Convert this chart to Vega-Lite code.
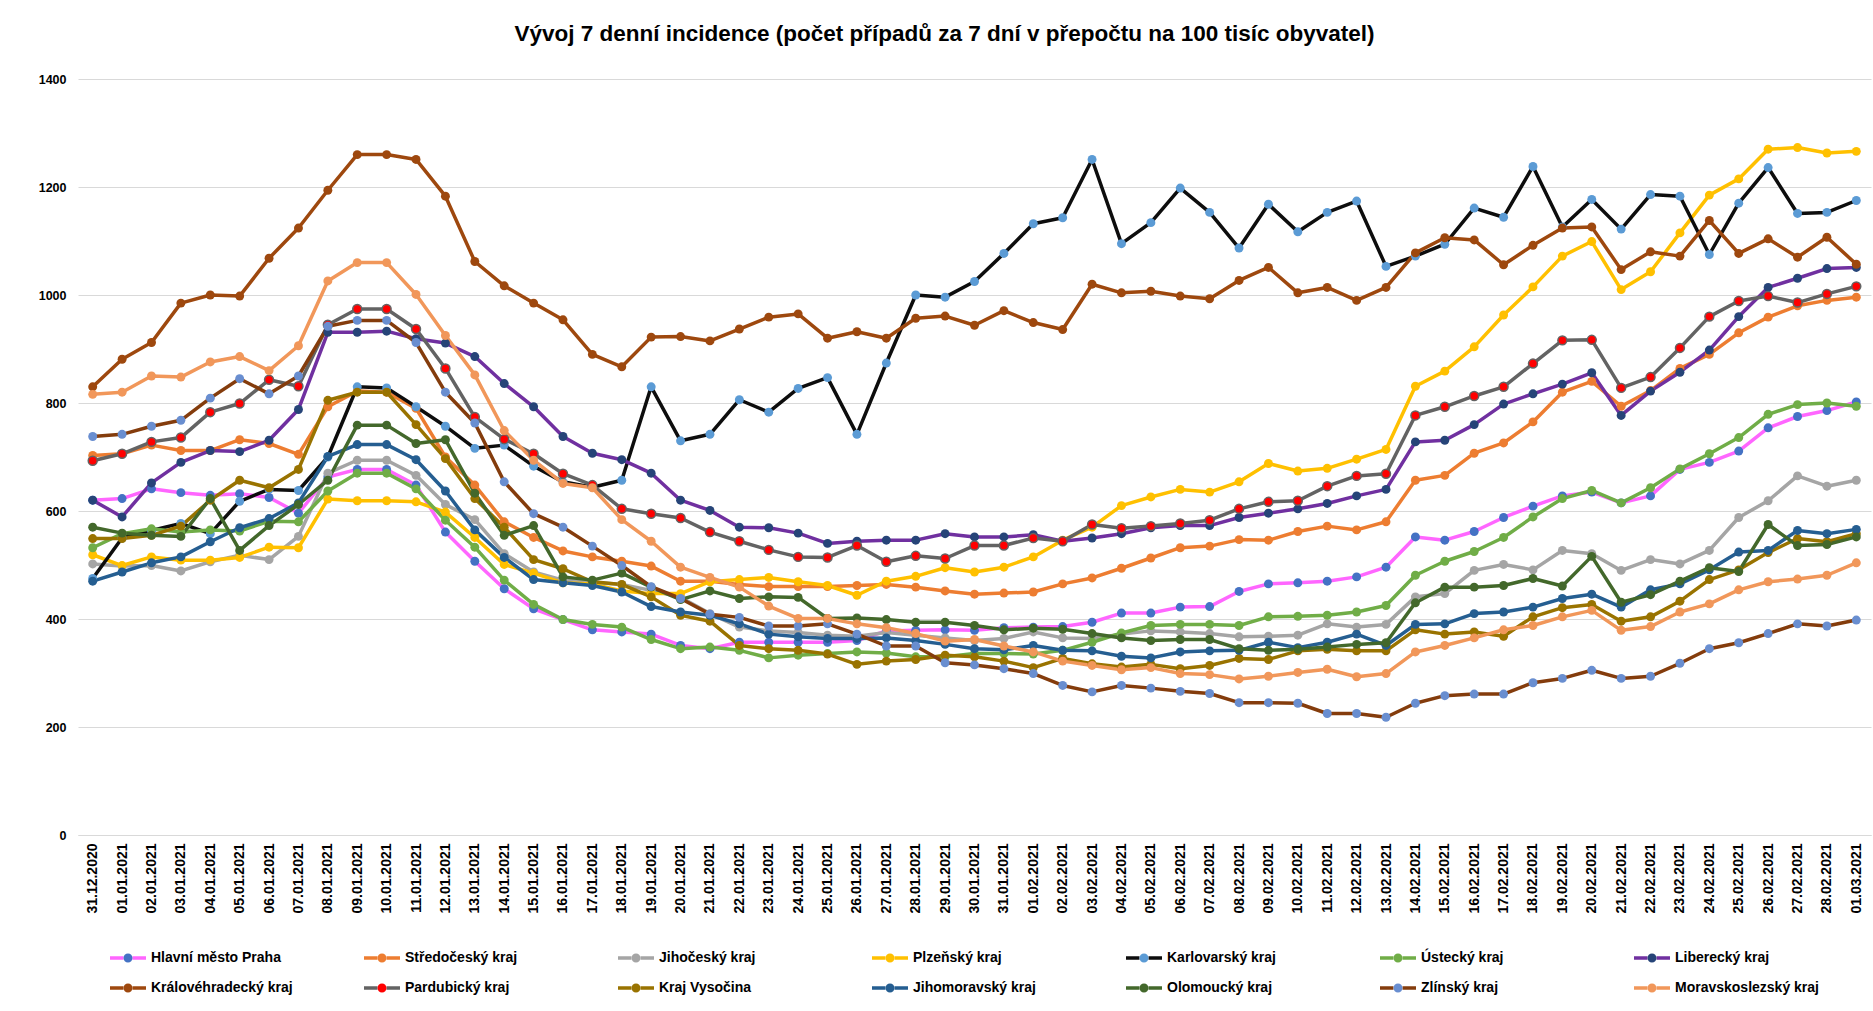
{
"$schema": "https://vega.github.io/schema/vega-lite/v6.json",
"width": 1793, "height": 756,
"autosize": {"type": "none"},
"padding": {"left": 78, "top": 79, "right": 2, "bottom": 176},
"background": "white",
"config": {"view": {"stroke": null}, "font": "Liberation Sans"},
"title": {"text": "Vývoj 7 denní incidence (počet případů za 7 dní v přepočtu na 100 tisíc obyvatel)", "font": "Liberation Sans", "fontSize": 22.5, "fontWeight": "bold", "color": "#000000", "anchor": "middle", "offset": 28, "dx": -30},
"data": {"values": [
{"d":"2020-12-31","r":"Hlavní město Praha","v":620},{"d":"2021-01-01","r":"Hlavní město Praha","v":623},{"d":"2021-01-02","r":"Hlavní město Praha","v":641},{"d":"2021-01-03","r":"Hlavní město Praha","v":634},{"d":"2021-01-04","r":"Hlavní město Praha","v":629},{"d":"2021-01-05","r":"Hlavní město Praha","v":632},{"d":"2021-01-06","r":"Hlavní město Praha","v":625},{"d":"2021-01-07","r":"Hlavní město Praha","v":596},{"d":"2021-01-08","r":"Hlavní město Praha","v":663},{"d":"2021-01-09","r":"Hlavní město Praha","v":677},{"d":"2021-01-10","r":"Hlavní město Praha","v":677},{"d":"2021-01-11","r":"Hlavní město Praha","v":648},{"d":"2021-01-12","r":"Hlavní město Praha","v":561},{"d":"2021-01-13","r":"Hlavní město Praha","v":507},{"d":"2021-01-14","r":"Hlavní město Praha","v":456},{"d":"2021-01-15","r":"Hlavní město Praha","v":419},{"d":"2021-01-16","r":"Hlavní město Praha","v":399},{"d":"2021-01-17","r":"Hlavní město Praha","v":380},{"d":"2021-01-18","r":"Hlavní město Praha","v":376},{"d":"2021-01-19","r":"Hlavní město Praha","v":372},{"d":"2021-01-20","r":"Hlavní město Praha","v":351},{"d":"2021-01-21","r":"Hlavní město Praha","v":345},{"d":"2021-01-22","r":"Hlavní město Praha","v":357},{"d":"2021-01-23","r":"Hlavní město Praha","v":357},{"d":"2021-01-24","r":"Hlavní město Praha","v":357},{"d":"2021-01-25","r":"Hlavní město Praha","v":357},{"d":"2021-01-26","r":"Hlavní město Praha","v":360},{"d":"2021-01-27","r":"Hlavní město Praha","v":378},{"d":"2021-01-28","r":"Hlavní město Praha","v":379},{"d":"2021-01-29","r":"Hlavní město Praha","v":380},{"d":"2021-01-30","r":"Hlavní město Praha","v":379},{"d":"2021-01-31","r":"Hlavní město Praha","v":384},{"d":"2021-02-01","r":"Hlavní město Praha","v":385},{"d":"2021-02-02","r":"Hlavní město Praha","v":386},{"d":"2021-02-03","r":"Hlavní město Praha","v":394},{"d":"2021-02-04","r":"Hlavní město Praha","v":411},{"d":"2021-02-05","r":"Hlavní město Praha","v":411},{"d":"2021-02-06","r":"Hlavní město Praha","v":422},{"d":"2021-02-07","r":"Hlavní město Praha","v":423},{"d":"2021-02-08","r":"Hlavní město Praha","v":451},{"d":"2021-02-09","r":"Hlavní město Praha","v":465},{"d":"2021-02-10","r":"Hlavní město Praha","v":467},{"d":"2021-02-11","r":"Hlavní město Praha","v":470},{"d":"2021-02-12","r":"Hlavní město Praha","v":478},{"d":"2021-02-13","r":"Hlavní město Praha","v":496},{"d":"2021-02-14","r":"Hlavní město Praha","v":552},{"d":"2021-02-15","r":"Hlavní město Praha","v":546},{"d":"2021-02-16","r":"Hlavní město Praha","v":562},{"d":"2021-02-17","r":"Hlavní město Praha","v":588},{"d":"2021-02-18","r":"Hlavní město Praha","v":609},{"d":"2021-02-19","r":"Hlavní město Praha","v":628},{"d":"2021-02-20","r":"Hlavní město Praha","v":635},{"d":"2021-02-21","r":"Hlavní město Praha","v":615},{"d":"2021-02-22","r":"Hlavní město Praha","v":628},{"d":"2021-02-23","r":"Hlavní město Praha","v":677},{"d":"2021-02-24","r":"Hlavní město Praha","v":690},{"d":"2021-02-25","r":"Hlavní město Praha","v":711},{"d":"2021-02-26","r":"Hlavní město Praha","v":754},{"d":"2021-02-27","r":"Hlavní město Praha","v":775},{"d":"2021-02-28","r":"Hlavní město Praha","v":786},{"d":"2021-03-01","r":"Hlavní město Praha","v":802},
{"d":"2020-12-31","r":"Středočeský kraj","v":703},{"d":"2021-01-01","r":"Středočeský kraj","v":706},{"d":"2021-01-02","r":"Středočeský kraj","v":722},{"d":"2021-01-03","r":"Středočeský kraj","v":712},{"d":"2021-01-04","r":"Středočeský kraj","v":712},{"d":"2021-01-05","r":"Středočeský kraj","v":732},{"d":"2021-01-06","r":"Středočeský kraj","v":725},{"d":"2021-01-07","r":"Středočeský kraj","v":705},{"d":"2021-01-08","r":"Středočeský kraj","v":793},{"d":"2021-01-09","r":"Středočeský kraj","v":822},{"d":"2021-01-10","r":"Středočeský kraj","v":820},{"d":"2021-01-11","r":"Středočeský kraj","v":790},{"d":"2021-01-12","r":"Středočeský kraj","v":700},{"d":"2021-01-13","r":"Středočeský kraj","v":648},{"d":"2021-01-14","r":"Středočeský kraj","v":580},{"d":"2021-01-15","r":"Středočeský kraj","v":551},{"d":"2021-01-16","r":"Středočeský kraj","v":526},{"d":"2021-01-17","r":"Středočeský kraj","v":515},{"d":"2021-01-18","r":"Středočeský kraj","v":507},{"d":"2021-01-19","r":"Středočeský kraj","v":498},{"d":"2021-01-20","r":"Středočeský kraj","v":470},{"d":"2021-01-21","r":"Středočeský kraj","v":470},{"d":"2021-01-22","r":"Středočeský kraj","v":464},{"d":"2021-01-23","r":"Středočeský kraj","v":460},{"d":"2021-01-24","r":"Středočeský kraj","v":460},{"d":"2021-01-25","r":"Středočeský kraj","v":460},{"d":"2021-01-26","r":"Středočeský kraj","v":462},{"d":"2021-01-27","r":"Středočeský kraj","v":464},{"d":"2021-01-28","r":"Středočeský kraj","v":459},{"d":"2021-01-29","r":"Středočeský kraj","v":452},{"d":"2021-01-30","r":"Středočeský kraj","v":446},{"d":"2021-01-31","r":"Středočeský kraj","v":448},{"d":"2021-02-01","r":"Středočeský kraj","v":450},{"d":"2021-02-02","r":"Středočeský kraj","v":465},{"d":"2021-02-03","r":"Středočeský kraj","v":476},{"d":"2021-02-04","r":"Středočeský kraj","v":494},{"d":"2021-02-05","r":"Středočeský kraj","v":513},{"d":"2021-02-06","r":"Středočeský kraj","v":532},{"d":"2021-02-07","r":"Středočeský kraj","v":535},{"d":"2021-02-08","r":"Středočeský kraj","v":547},{"d":"2021-02-09","r":"Středočeský kraj","v":546},{"d":"2021-02-10","r":"Středočeský kraj","v":562},{"d":"2021-02-11","r":"Středočeský kraj","v":572},{"d":"2021-02-12","r":"Středočeský kraj","v":565},{"d":"2021-02-13","r":"Středočeský kraj","v":580},{"d":"2021-02-14","r":"Středočeský kraj","v":657},{"d":"2021-02-15","r":"Středočeský kraj","v":666},{"d":"2021-02-16","r":"Středočeský kraj","v":707},{"d":"2021-02-17","r":"Středočeský kraj","v":726},{"d":"2021-02-18","r":"Středočeský kraj","v":765},{"d":"2021-02-19","r":"Středočeský kraj","v":820},{"d":"2021-02-20","r":"Středočeský kraj","v":840},{"d":"2021-02-21","r":"Středočeský kraj","v":794},{"d":"2021-02-22","r":"Středočeský kraj","v":823},{"d":"2021-02-23","r":"Středočeský kraj","v":864},{"d":"2021-02-24","r":"Středočeský kraj","v":890},{"d":"2021-02-25","r":"Středočeský kraj","v":930},{"d":"2021-02-26","r":"Středočeský kraj","v":959},{"d":"2021-02-27","r":"Středočeský kraj","v":980},{"d":"2021-02-28","r":"Středočeský kraj","v":990},{"d":"2021-03-01","r":"Středočeský kraj","v":996},
{"d":"2020-12-31","r":"Jihočeský kraj","v":502},{"d":"2021-01-01","r":"Jihočeský kraj","v":498},{"d":"2021-01-02","r":"Jihočeský kraj","v":499},{"d":"2021-01-03","r":"Jihočeský kraj","v":489},{"d":"2021-01-04","r":"Jihočeský kraj","v":506},{"d":"2021-01-05","r":"Jihočeský kraj","v":518},{"d":"2021-01-06","r":"Jihočeský kraj","v":510},{"d":"2021-01-07","r":"Jihočeský kraj","v":553},{"d":"2021-01-08","r":"Jihočeský kraj","v":670},{"d":"2021-01-09","r":"Jihočeský kraj","v":694},{"d":"2021-01-10","r":"Jihočeský kraj","v":694},{"d":"2021-01-11","r":"Jihočeský kraj","v":666},{"d":"2021-01-12","r":"Jihočeský kraj","v":612},{"d":"2021-01-13","r":"Jihočeský kraj","v":584},{"d":"2021-01-14","r":"Jihočeský kraj","v":521},{"d":"2021-01-15","r":"Jihočeský kraj","v":487},{"d":"2021-01-16","r":"Jihočeský kraj","v":472},{"d":"2021-01-17","r":"Jihočeský kraj","v":468},{"d":"2021-01-18","r":"Jihočeský kraj","v":464},{"d":"2021-01-19","r":"Jihočeský kraj","v":453},{"d":"2021-01-20","r":"Jihočeský kraj","v":440},{"d":"2021-01-21","r":"Jihočeský kraj","v":410},{"d":"2021-01-22","r":"Jihočeský kraj","v":385},{"d":"2021-01-23","r":"Jihočeský kraj","v":378},{"d":"2021-01-24","r":"Jihočeský kraj","v":375},{"d":"2021-01-25","r":"Jihočeský kraj","v":370},{"d":"2021-01-26","r":"Jihočeský kraj","v":368},{"d":"2021-01-27","r":"Jihočeský kraj","v":375},{"d":"2021-01-28","r":"Jihočeský kraj","v":370},{"d":"2021-01-29","r":"Jihočeský kraj","v":365},{"d":"2021-01-30","r":"Jihočeský kraj","v":360},{"d":"2021-01-31","r":"Jihočeský kraj","v":364},{"d":"2021-02-01","r":"Jihočeský kraj","v":376},{"d":"2021-02-02","r":"Jihočeský kraj","v":365},{"d":"2021-02-03","r":"Jihočeský kraj","v":364},{"d":"2021-02-04","r":"Jihočeský kraj","v":372},{"d":"2021-02-05","r":"Jihočeský kraj","v":378},{"d":"2021-02-06","r":"Jihočeský kraj","v":376},{"d":"2021-02-07","r":"Jihočeský kraj","v":373},{"d":"2021-02-08","r":"Jihočeský kraj","v":367},{"d":"2021-02-09","r":"Jihočeský kraj","v":368},{"d":"2021-02-10","r":"Jihočeský kraj","v":370},{"d":"2021-02-11","r":"Jihočeský kraj","v":391},{"d":"2021-02-12","r":"Jihočeský kraj","v":385},{"d":"2021-02-13","r":"Jihočeský kraj","v":390},{"d":"2021-02-14","r":"Jihočeský kraj","v":441},{"d":"2021-02-15","r":"Jihočeský kraj","v":447},{"d":"2021-02-16","r":"Jihočeský kraj","v":490},{"d":"2021-02-17","r":"Jihočeský kraj","v":501},{"d":"2021-02-18","r":"Jihočeský kraj","v":491},{"d":"2021-02-19","r":"Jihočeský kraj","v":527},{"d":"2021-02-20","r":"Jihočeský kraj","v":521},{"d":"2021-02-21","r":"Jihočeský kraj","v":490},{"d":"2021-02-22","r":"Jihočeský kraj","v":510},{"d":"2021-02-23","r":"Jihočeský kraj","v":502},{"d":"2021-02-24","r":"Jihočeský kraj","v":527},{"d":"2021-02-25","r":"Jihočeský kraj","v":588},{"d":"2021-02-26","r":"Jihočeský kraj","v":619},{"d":"2021-02-27","r":"Jihočeský kraj","v":665},{"d":"2021-02-28","r":"Jihočeský kraj","v":646},{"d":"2021-03-01","r":"Jihočeský kraj","v":657},
{"d":"2020-12-31","r":"Plzeňský kraj","v":519},{"d":"2021-01-01","r":"Plzeňský kraj","v":499},{"d":"2021-01-02","r":"Plzeňský kraj","v":515},{"d":"2021-01-03","r":"Plzeňský kraj","v":509},{"d":"2021-01-04","r":"Plzeňský kraj","v":509},{"d":"2021-01-05","r":"Plzeňský kraj","v":514},{"d":"2021-01-06","r":"Plzeňský kraj","v":533},{"d":"2021-01-07","r":"Plzeňský kraj","v":532},{"d":"2021-01-08","r":"Plzeňský kraj","v":622},{"d":"2021-01-09","r":"Plzeňský kraj","v":619},{"d":"2021-01-10","r":"Plzeňský kraj","v":619},{"d":"2021-01-11","r":"Plzeňský kraj","v":617},{"d":"2021-01-12","r":"Plzeňský kraj","v":598},{"d":"2021-01-13","r":"Plzeňský kraj","v":551},{"d":"2021-01-14","r":"Plzeňský kraj","v":501},{"d":"2021-01-15","r":"Plzeňský kraj","v":485},{"d":"2021-01-16","r":"Plzeňský kraj","v":467},{"d":"2021-01-17","r":"Plzeňský kraj","v":465},{"d":"2021-01-18","r":"Plzeňský kraj","v":452},{"d":"2021-01-19","r":"Plzeňský kraj","v":447},{"d":"2021-01-20","r":"Plzeňský kraj","v":447},{"d":"2021-01-21","r":"Plzeňský kraj","v":469},{"d":"2021-01-22","r":"Plzeňský kraj","v":473},{"d":"2021-01-23","r":"Plzeňský kraj","v":477},{"d":"2021-01-24","r":"Plzeňský kraj","v":469},{"d":"2021-01-25","r":"Plzeňský kraj","v":462},{"d":"2021-01-26","r":"Plzeňský kraj","v":444},{"d":"2021-01-27","r":"Plzeňský kraj","v":470},{"d":"2021-01-28","r":"Plzeňský kraj","v":479},{"d":"2021-01-29","r":"Plzeňský kraj","v":495},{"d":"2021-01-30","r":"Plzeňský kraj","v":487},{"d":"2021-01-31","r":"Plzeňský kraj","v":496},{"d":"2021-02-01","r":"Plzeňský kraj","v":515},{"d":"2021-02-02","r":"Plzeňský kraj","v":546},{"d":"2021-02-03","r":"Plzeňský kraj","v":570},{"d":"2021-02-04","r":"Plzeňský kraj","v":610},{"d":"2021-02-05","r":"Plzeňský kraj","v":626},{"d":"2021-02-06","r":"Plzeňský kraj","v":640},{"d":"2021-02-07","r":"Plzeňský kraj","v":635},{"d":"2021-02-08","r":"Plzeňský kraj","v":654},{"d":"2021-02-09","r":"Plzeňský kraj","v":688},{"d":"2021-02-10","r":"Plzeňský kraj","v":674},{"d":"2021-02-11","r":"Plzeňský kraj","v":679},{"d":"2021-02-12","r":"Plzeňský kraj","v":696},{"d":"2021-02-13","r":"Plzeňský kraj","v":714},{"d":"2021-02-14","r":"Plzeňský kraj","v":831},{"d":"2021-02-15","r":"Plzeňský kraj","v":859},{"d":"2021-02-16","r":"Plzeňský kraj","v":904},{"d":"2021-02-17","r":"Plzeňský kraj","v":963},{"d":"2021-02-18","r":"Plzeňský kraj","v":1015},{"d":"2021-02-19","r":"Plzeňský kraj","v":1072},{"d":"2021-02-20","r":"Plzeňský kraj","v":1099},{"d":"2021-02-21","r":"Plzeňský kraj","v":1010},{"d":"2021-02-22","r":"Plzeňský kraj","v":1043},{"d":"2021-02-23","r":"Plzeňský kraj","v":1115},{"d":"2021-02-24","r":"Plzeňský kraj","v":1185},{"d":"2021-02-25","r":"Plzeňský kraj","v":1215},{"d":"2021-02-26","r":"Plzeňský kraj","v":1270},{"d":"2021-02-27","r":"Plzeňský kraj","v":1273},{"d":"2021-02-28","r":"Plzeňský kraj","v":1263},{"d":"2021-03-01","r":"Plzeňský kraj","v":1266},
{"d":"2020-12-31","r":"Karlovarský kraj","v":475},{"d":"2021-01-01","r":"Karlovarský kraj","v":550},{"d":"2021-01-02","r":"Karlovarský kraj","v":564},{"d":"2021-01-03","r":"Karlovarský kraj","v":577},{"d":"2021-01-04","r":"Karlovarský kraj","v":558},{"d":"2021-01-05","r":"Karlovarský kraj","v":618},{"d":"2021-01-06","r":"Karlovarský kraj","v":640},{"d":"2021-01-07","r":"Karlovarský kraj","v":638},{"d":"2021-01-08","r":"Karlovarský kraj","v":700},{"d":"2021-01-09","r":"Karlovarský kraj","v":830},{"d":"2021-01-10","r":"Karlovarský kraj","v":828},{"d":"2021-01-11","r":"Karlovarský kraj","v":793},{"d":"2021-01-12","r":"Karlovarský kraj","v":757},{"d":"2021-01-13","r":"Karlovarský kraj","v":716},{"d":"2021-01-14","r":"Karlovarský kraj","v":722},{"d":"2021-01-15","r":"Karlovarský kraj","v":683},{"d":"2021-01-16","r":"Karlovarský kraj","v":654},{"d":"2021-01-17","r":"Karlovarský kraj","v":644},{"d":"2021-01-18","r":"Karlovarský kraj","v":657},{"d":"2021-01-19","r":"Karlovarský kraj","v":830},{"d":"2021-01-20","r":"Karlovarský kraj","v":730},{"d":"2021-01-21","r":"Karlovarský kraj","v":742},{"d":"2021-01-22","r":"Karlovarský kraj","v":806},{"d":"2021-01-23","r":"Karlovarský kraj","v":783},{"d":"2021-01-24","r":"Karlovarský kraj","v":827},{"d":"2021-01-25","r":"Karlovarský kraj","v":847},{"d":"2021-01-26","r":"Karlovarský kraj","v":742},{"d":"2021-01-27","r":"Karlovarský kraj","v":874},{"d":"2021-01-28","r":"Karlovarský kraj","v":1000},{"d":"2021-01-29","r":"Karlovarský kraj","v":996},{"d":"2021-01-30","r":"Karlovarský kraj","v":1025},{"d":"2021-01-31","r":"Karlovarský kraj","v":1077},{"d":"2021-02-01","r":"Karlovarský kraj","v":1132},{"d":"2021-02-02","r":"Karlovarský kraj","v":1143},{"d":"2021-02-03","r":"Karlovarský kraj","v":1251},{"d":"2021-02-04","r":"Karlovarský kraj","v":1095},{"d":"2021-02-05","r":"Karlovarský kraj","v":1134},{"d":"2021-02-06","r":"Karlovarský kraj","v":1198},{"d":"2021-02-07","r":"Karlovarský kraj","v":1153},{"d":"2021-02-08","r":"Karlovarský kraj","v":1087},{"d":"2021-02-09","r":"Karlovarský kraj","v":1168},{"d":"2021-02-10","r":"Karlovarský kraj","v":1117},{"d":"2021-02-11","r":"Karlovarský kraj","v":1153},{"d":"2021-02-12","r":"Karlovarský kraj","v":1174},{"d":"2021-02-13","r":"Karlovarský kraj","v":1053},{"d":"2021-02-14","r":"Karlovarský kraj","v":1072},{"d":"2021-02-15","r":"Karlovarský kraj","v":1094},{"d":"2021-02-16","r":"Karlovarský kraj","v":1161},{"d":"2021-02-17","r":"Karlovarský kraj","v":1144},{"d":"2021-02-18","r":"Karlovarský kraj","v":1238},{"d":"2021-02-19","r":"Karlovarský kraj","v":1126},{"d":"2021-02-20","r":"Karlovarský kraj","v":1177},{"d":"2021-02-21","r":"Karlovarský kraj","v":1122},{"d":"2021-02-22","r":"Karlovarský kraj","v":1186},{"d":"2021-02-23","r":"Karlovarský kraj","v":1183},{"d":"2021-02-24","r":"Karlovarský kraj","v":1075},{"d":"2021-02-25","r":"Karlovarský kraj","v":1170},{"d":"2021-02-26","r":"Karlovarský kraj","v":1236},{"d":"2021-02-27","r":"Karlovarský kraj","v":1151},{"d":"2021-02-28","r":"Karlovarský kraj","v":1153},{"d":"2021-03-01","r":"Karlovarský kraj","v":1175},
{"d":"2020-12-31","r":"Ústecký kraj","v":532},{"d":"2021-01-01","r":"Ústecký kraj","v":558},{"d":"2021-01-02","r":"Ústecký kraj","v":567},{"d":"2021-01-03","r":"Ústecký kraj","v":561},{"d":"2021-01-04","r":"Ústecký kraj","v":565},{"d":"2021-01-05","r":"Ústecký kraj","v":563},{"d":"2021-01-06","r":"Ústecký kraj","v":581},{"d":"2021-01-07","r":"Ústecký kraj","v":580},{"d":"2021-01-08","r":"Ústecký kraj","v":637},{"d":"2021-01-09","r":"Ústecký kraj","v":670},{"d":"2021-01-10","r":"Ústecký kraj","v":670},{"d":"2021-01-11","r":"Ústecký kraj","v":641},{"d":"2021-01-12","r":"Ústecký kraj","v":583},{"d":"2021-01-13","r":"Ústecký kraj","v":533},{"d":"2021-01-14","r":"Ústecký kraj","v":472},{"d":"2021-01-15","r":"Ústecký kraj","v":427},{"d":"2021-01-16","r":"Ústecký kraj","v":399},{"d":"2021-01-17","r":"Ústecký kraj","v":390},{"d":"2021-01-18","r":"Ústecký kraj","v":385},{"d":"2021-01-19","r":"Ústecký kraj","v":362},{"d":"2021-01-20","r":"Ústecký kraj","v":345},{"d":"2021-01-21","r":"Ústecký kraj","v":348},{"d":"2021-01-22","r":"Ústecký kraj","v":342},{"d":"2021-01-23","r":"Ústecký kraj","v":328},{"d":"2021-01-24","r":"Ústecký kraj","v":333},{"d":"2021-01-25","r":"Ústecký kraj","v":336},{"d":"2021-01-26","r":"Ústecký kraj","v":339},{"d":"2021-01-27","r":"Ústecký kraj","v":337},{"d":"2021-01-28","r":"Ústecký kraj","v":330},{"d":"2021-01-29","r":"Ústecký kraj","v":330},{"d":"2021-01-30","r":"Ústecký kraj","v":336},{"d":"2021-01-31","r":"Ústecký kraj","v":336},{"d":"2021-02-01","r":"Ústecký kraj","v":335},{"d":"2021-02-02","r":"Ústecký kraj","v":342},{"d":"2021-02-03","r":"Ústecký kraj","v":357},{"d":"2021-02-04","r":"Ústecký kraj","v":374},{"d":"2021-02-05","r":"Ústecký kraj","v":388},{"d":"2021-02-06","r":"Ústecký kraj","v":390},{"d":"2021-02-07","r":"Ústecký kraj","v":390},{"d":"2021-02-08","r":"Ústecký kraj","v":388},{"d":"2021-02-09","r":"Ústecký kraj","v":404},{"d":"2021-02-10","r":"Ústecký kraj","v":405},{"d":"2021-02-11","r":"Ústecký kraj","v":407},{"d":"2021-02-12","r":"Ústecký kraj","v":413},{"d":"2021-02-13","r":"Ústecký kraj","v":425},{"d":"2021-02-14","r":"Ústecký kraj","v":481},{"d":"2021-02-15","r":"Ústecký kraj","v":507},{"d":"2021-02-16","r":"Ústecký kraj","v":525},{"d":"2021-02-17","r":"Ústecký kraj","v":551},{"d":"2021-02-18","r":"Ústecký kraj","v":589},{"d":"2021-02-19","r":"Ústecký kraj","v":623},{"d":"2021-02-20","r":"Ústecký kraj","v":638},{"d":"2021-02-21","r":"Ústecký kraj","v":615},{"d":"2021-02-22","r":"Ústecký kraj","v":643},{"d":"2021-02-23","r":"Ústecký kraj","v":678},{"d":"2021-02-24","r":"Ústecký kraj","v":706},{"d":"2021-02-25","r":"Ústecký kraj","v":736},{"d":"2021-02-26","r":"Ústecký kraj","v":779},{"d":"2021-02-27","r":"Ústecký kraj","v":797},{"d":"2021-02-28","r":"Ústecký kraj","v":800},{"d":"2021-03-01","r":"Ústecký kraj","v":794},
{"d":"2020-12-31","r":"Liberecký kraj","v":620},{"d":"2021-01-01","r":"Liberecký kraj","v":589},{"d":"2021-01-02","r":"Liberecký kraj","v":652},{"d":"2021-01-03","r":"Liberecký kraj","v":690},{"d":"2021-01-04","r":"Liberecký kraj","v":712},{"d":"2021-01-05","r":"Liberecký kraj","v":710},{"d":"2021-01-06","r":"Liberecký kraj","v":731},{"d":"2021-01-07","r":"Liberecký kraj","v":788},{"d":"2021-01-08","r":"Liberecký kraj","v":931},{"d":"2021-01-09","r":"Liberecký kraj","v":931},{"d":"2021-01-10","r":"Liberecký kraj","v":933},{"d":"2021-01-11","r":"Liberecký kraj","v":919},{"d":"2021-01-12","r":"Liberecký kraj","v":911},{"d":"2021-01-13","r":"Liberecký kraj","v":886},{"d":"2021-01-14","r":"Liberecký kraj","v":836},{"d":"2021-01-15","r":"Liberecký kraj","v":793},{"d":"2021-01-16","r":"Liberecký kraj","v":738},{"d":"2021-01-17","r":"Liberecký kraj","v":707},{"d":"2021-01-18","r":"Liberecký kraj","v":695},{"d":"2021-01-19","r":"Liberecký kraj","v":670},{"d":"2021-01-20","r":"Liberecký kraj","v":620},{"d":"2021-01-21","r":"Liberecký kraj","v":601},{"d":"2021-01-22","r":"Liberecký kraj","v":570},{"d":"2021-01-23","r":"Liberecký kraj","v":569},{"d":"2021-01-24","r":"Liberecký kraj","v":559},{"d":"2021-01-25","r":"Liberecký kraj","v":540},{"d":"2021-01-26","r":"Liberecký kraj","v":544},{"d":"2021-01-27","r":"Liberecký kraj","v":546},{"d":"2021-01-28","r":"Liberecký kraj","v":546},{"d":"2021-01-29","r":"Liberecký kraj","v":558},{"d":"2021-01-30","r":"Liberecký kraj","v":552},{"d":"2021-01-31","r":"Liberecký kraj","v":552},{"d":"2021-02-01","r":"Liberecký kraj","v":556},{"d":"2021-02-02","r":"Liberecký kraj","v":544},{"d":"2021-02-03","r":"Liberecký kraj","v":550},{"d":"2021-02-04","r":"Liberecký kraj","v":558},{"d":"2021-02-05","r":"Liberecký kraj","v":569},{"d":"2021-02-06","r":"Liberecký kraj","v":573},{"d":"2021-02-07","r":"Liberecký kraj","v":573},{"d":"2021-02-08","r":"Liberecký kraj","v":588},{"d":"2021-02-09","r":"Liberecký kraj","v":596},{"d":"2021-02-10","r":"Liberecký kraj","v":604},{"d":"2021-02-11","r":"Liberecký kraj","v":614},{"d":"2021-02-12","r":"Liberecký kraj","v":628},{"d":"2021-02-13","r":"Liberecký kraj","v":640},{"d":"2021-02-14","r":"Liberecký kraj","v":728},{"d":"2021-02-15","r":"Liberecký kraj","v":731},{"d":"2021-02-16","r":"Liberecký kraj","v":760},{"d":"2021-02-17","r":"Liberecký kraj","v":798},{"d":"2021-02-18","r":"Liberecký kraj","v":817},{"d":"2021-02-19","r":"Liberecký kraj","v":835},{"d":"2021-02-20","r":"Liberecký kraj","v":856},{"d":"2021-02-21","r":"Liberecký kraj","v":777},{"d":"2021-02-22","r":"Liberecký kraj","v":822},{"d":"2021-02-23","r":"Liberecký kraj","v":857},{"d":"2021-02-24","r":"Liberecký kraj","v":898},{"d":"2021-02-25","r":"Liberecký kraj","v":960},{"d":"2021-02-26","r":"Liberecký kraj","v":1014},{"d":"2021-02-27","r":"Liberecký kraj","v":1031},{"d":"2021-02-28","r":"Liberecký kraj","v":1049},{"d":"2021-03-01","r":"Liberecký kraj","v":1051},
{"d":"2020-12-31","r":"Královéhradecký kraj","v":830},{"d":"2021-01-01","r":"Královéhradecký kraj","v":881},{"d":"2021-01-02","r":"Královéhradecký kraj","v":912},{"d":"2021-01-03","r":"Královéhradecký kraj","v":985},{"d":"2021-01-04","r":"Královéhradecký kraj","v":1000},{"d":"2021-01-05","r":"Královéhradecký kraj","v":998},{"d":"2021-01-06","r":"Královéhradecký kraj","v":1068},{"d":"2021-01-07","r":"Královéhradecký kraj","v":1124},{"d":"2021-01-08","r":"Královéhradecký kraj","v":1194},{"d":"2021-01-09","r":"Královéhradecký kraj","v":1260},{"d":"2021-01-10","r":"Královéhradecký kraj","v":1260},{"d":"2021-01-11","r":"Královéhradecký kraj","v":1251},{"d":"2021-01-12","r":"Královéhradecký kraj","v":1183},{"d":"2021-01-13","r":"Královéhradecký kraj","v":1062},{"d":"2021-01-14","r":"Královéhradecký kraj","v":1017},{"d":"2021-01-15","r":"Královéhradecký kraj","v":985},{"d":"2021-01-16","r":"Královéhradecký kraj","v":954},{"d":"2021-01-17","r":"Královéhradecký kraj","v":890},{"d":"2021-01-18","r":"Královéhradecký kraj","v":867},{"d":"2021-01-19","r":"Královéhradecký kraj","v":922},{"d":"2021-01-20","r":"Královéhradecký kraj","v":923},{"d":"2021-01-21","r":"Královéhradecký kraj","v":915},{"d":"2021-01-22","r":"Královéhradecký kraj","v":937},{"d":"2021-01-23","r":"Královéhradecký kraj","v":959},{"d":"2021-01-24","r":"Královéhradecký kraj","v":965},{"d":"2021-01-25","r":"Královéhradecký kraj","v":920},{"d":"2021-01-26","r":"Královéhradecký kraj","v":932},{"d":"2021-01-27","r":"Královéhradecký kraj","v":920},{"d":"2021-01-28","r":"Královéhradecký kraj","v":957},{"d":"2021-01-29","r":"Královéhradecký kraj","v":961},{"d":"2021-01-30","r":"Královéhradecký kraj","v":944},{"d":"2021-01-31","r":"Královéhradecký kraj","v":971},{"d":"2021-02-01","r":"Královéhradecký kraj","v":949},{"d":"2021-02-02","r":"Královéhradecký kraj","v":936},{"d":"2021-02-03","r":"Královéhradecký kraj","v":1020},{"d":"2021-02-04","r":"Královéhradecký kraj","v":1004},{"d":"2021-02-05","r":"Královéhradecký kraj","v":1007},{"d":"2021-02-06","r":"Královéhradecký kraj","v":998},{"d":"2021-02-07","r":"Královéhradecký kraj","v":993},{"d":"2021-02-08","r":"Královéhradecký kraj","v":1027},{"d":"2021-02-09","r":"Královéhradecký kraj","v":1051},{"d":"2021-02-10","r":"Královéhradecký kraj","v":1004},{"d":"2021-02-11","r":"Královéhradecký kraj","v":1014},{"d":"2021-02-12","r":"Královéhradecký kraj","v":990},{"d":"2021-02-13","r":"Královéhradecký kraj","v":1014},{"d":"2021-02-14","r":"Královéhradecký kraj","v":1078},{"d":"2021-02-15","r":"Královéhradecký kraj","v":1106},{"d":"2021-02-16","r":"Královéhradecký kraj","v":1102},{"d":"2021-02-17","r":"Královéhradecký kraj","v":1056},{"d":"2021-02-18","r":"Královéhradecký kraj","v":1092},{"d":"2021-02-19","r":"Královéhradecký kraj","v":1124},{"d":"2021-02-20","r":"Královéhradecký kraj","v":1126},{"d":"2021-02-21","r":"Královéhradecký kraj","v":1047},{"d":"2021-02-22","r":"Královéhradecký kraj","v":1080},{"d":"2021-02-23","r":"Královéhradecký kraj","v":1072},{"d":"2021-02-24","r":"Královéhradecký kraj","v":1138},{"d":"2021-02-25","r":"Královéhradecký kraj","v":1077},{"d":"2021-02-26","r":"Královéhradecký kraj","v":1104},{"d":"2021-02-27","r":"Královéhradecký kraj","v":1070},{"d":"2021-02-28","r":"Královéhradecký kraj","v":1107},{"d":"2021-03-01","r":"Královéhradecký kraj","v":1057},
{"d":"2020-12-31","r":"Pardubický kraj","v":693},{"d":"2021-01-01","r":"Pardubický kraj","v":706},{"d":"2021-01-02","r":"Pardubický kraj","v":728},{"d":"2021-01-03","r":"Pardubický kraj","v":736},{"d":"2021-01-04","r":"Pardubický kraj","v":783},{"d":"2021-01-05","r":"Pardubický kraj","v":799},{"d":"2021-01-06","r":"Pardubický kraj","v":843},{"d":"2021-01-07","r":"Pardubický kraj","v":831},{"d":"2021-01-08","r":"Pardubický kraj","v":945},{"d":"2021-01-09","r":"Pardubický kraj","v":974},{"d":"2021-01-10","r":"Pardubický kraj","v":974},{"d":"2021-01-11","r":"Pardubický kraj","v":937},{"d":"2021-01-12","r":"Pardubický kraj","v":864},{"d":"2021-01-13","r":"Pardubický kraj","v":774},{"d":"2021-01-14","r":"Pardubický kraj","v":733},{"d":"2021-01-15","r":"Pardubický kraj","v":706},{"d":"2021-01-16","r":"Pardubický kraj","v":669},{"d":"2021-01-17","r":"Pardubický kraj","v":648},{"d":"2021-01-18","r":"Pardubický kraj","v":604},{"d":"2021-01-19","r":"Pardubický kraj","v":595},{"d":"2021-01-20","r":"Pardubický kraj","v":587},{"d":"2021-01-21","r":"Pardubický kraj","v":561},{"d":"2021-01-22","r":"Pardubický kraj","v":544},{"d":"2021-01-23","r":"Pardubický kraj","v":528},{"d":"2021-01-24","r":"Pardubický kraj","v":515},{"d":"2021-01-25","r":"Pardubický kraj","v":514},{"d":"2021-01-26","r":"Pardubický kraj","v":536},{"d":"2021-01-27","r":"Pardubický kraj","v":506},{"d":"2021-01-28","r":"Pardubický kraj","v":517},{"d":"2021-01-29","r":"Pardubický kraj","v":512},{"d":"2021-01-30","r":"Pardubický kraj","v":536},{"d":"2021-01-31","r":"Pardubický kraj","v":536},{"d":"2021-02-01","r":"Pardubický kraj","v":550},{"d":"2021-02-02","r":"Pardubický kraj","v":544},{"d":"2021-02-03","r":"Pardubický kraj","v":575},{"d":"2021-02-04","r":"Pardubický kraj","v":568},{"d":"2021-02-05","r":"Pardubický kraj","v":572},{"d":"2021-02-06","r":"Pardubický kraj","v":577},{"d":"2021-02-07","r":"Pardubický kraj","v":583},{"d":"2021-02-08","r":"Pardubický kraj","v":604},{"d":"2021-02-09","r":"Pardubický kraj","v":617},{"d":"2021-02-10","r":"Pardubický kraj","v":619},{"d":"2021-02-11","r":"Pardubický kraj","v":646},{"d":"2021-02-12","r":"Pardubický kraj","v":665},{"d":"2021-02-13","r":"Pardubický kraj","v":669},{"d":"2021-02-14","r":"Pardubický kraj","v":777},{"d":"2021-02-15","r":"Pardubický kraj","v":793},{"d":"2021-02-16","r":"Pardubický kraj","v":813},{"d":"2021-02-17","r":"Pardubický kraj","v":830},{"d":"2021-02-18","r":"Pardubický kraj","v":873},{"d":"2021-02-19","r":"Pardubický kraj","v":916},{"d":"2021-02-20","r":"Pardubický kraj","v":917},{"d":"2021-02-21","r":"Pardubický kraj","v":828},{"d":"2021-02-22","r":"Pardubický kraj","v":848},{"d":"2021-02-23","r":"Pardubický kraj","v":902},{"d":"2021-02-24","r":"Pardubický kraj","v":960},{"d":"2021-02-25","r":"Pardubický kraj","v":989},{"d":"2021-02-26","r":"Pardubický kraj","v":998},{"d":"2021-02-27","r":"Pardubický kraj","v":986},{"d":"2021-02-28","r":"Pardubický kraj","v":1002},{"d":"2021-03-01","r":"Pardubický kraj","v":1016},
{"d":"2020-12-31","r":"Kraj Vysočina","v":549},{"d":"2021-01-01","r":"Kraj Vysočina","v":549},{"d":"2021-01-02","r":"Kraj Vysočina","v":555},{"d":"2021-01-03","r":"Kraj Vysočina","v":572},{"d":"2021-01-04","r":"Kraj Vysočina","v":620},{"d":"2021-01-05","r":"Kraj Vysočina","v":657},{"d":"2021-01-06","r":"Kraj Vysočina","v":643},{"d":"2021-01-07","r":"Kraj Vysočina","v":677},{"d":"2021-01-08","r":"Kraj Vysočina","v":805},{"d":"2021-01-09","r":"Kraj Vysočina","v":820},{"d":"2021-01-10","r":"Kraj Vysočina","v":820},{"d":"2021-01-11","r":"Kraj Vysočina","v":760},{"d":"2021-01-12","r":"Kraj Vysočina","v":697},{"d":"2021-01-13","r":"Kraj Vysočina","v":623},{"d":"2021-01-14","r":"Kraj Vysočina","v":570},{"d":"2021-01-15","r":"Kraj Vysočina","v":510},{"d":"2021-01-16","r":"Kraj Vysočina","v":493},{"d":"2021-01-17","r":"Kraj Vysočina","v":469},{"d":"2021-01-18","r":"Kraj Vysočina","v":464},{"d":"2021-01-19","r":"Kraj Vysočina","v":441},{"d":"2021-01-20","r":"Kraj Vysočina","v":407},{"d":"2021-01-21","r":"Kraj Vysočina","v":396},{"d":"2021-01-22","r":"Kraj Vysočina","v":351},{"d":"2021-01-23","r":"Kraj Vysočina","v":345},{"d":"2021-01-24","r":"Kraj Vysočina","v":342},{"d":"2021-01-25","r":"Kraj Vysočina","v":335},{"d":"2021-01-26","r":"Kraj Vysočina","v":316},{"d":"2021-01-27","r":"Kraj Vysočina","v":322},{"d":"2021-01-28","r":"Kraj Vysočina","v":325},{"d":"2021-01-29","r":"Kraj Vysočina","v":333},{"d":"2021-01-30","r":"Kraj Vysočina","v":330},{"d":"2021-01-31","r":"Kraj Vysočina","v":322},{"d":"2021-02-01","r":"Kraj Vysočina","v":310},{"d":"2021-02-02","r":"Kraj Vysočina","v":327},{"d":"2021-02-03","r":"Kraj Vysočina","v":317},{"d":"2021-02-04","r":"Kraj Vysočina","v":311},{"d":"2021-02-05","r":"Kraj Vysočina","v":316},{"d":"2021-02-06","r":"Kraj Vysočina","v":308},{"d":"2021-02-07","r":"Kraj Vysočina","v":314},{"d":"2021-02-08","r":"Kraj Vysočina","v":327},{"d":"2021-02-09","r":"Kraj Vysočina","v":325},{"d":"2021-02-10","r":"Kraj Vysočina","v":341},{"d":"2021-02-11","r":"Kraj Vysočina","v":344},{"d":"2021-02-12","r":"Kraj Vysočina","v":341},{"d":"2021-02-13","r":"Kraj Vysočina","v":341},{"d":"2021-02-14","r":"Kraj Vysočina","v":380},{"d":"2021-02-15","r":"Kraj Vysočina","v":372},{"d":"2021-02-16","r":"Kraj Vysočina","v":376},{"d":"2021-02-17","r":"Kraj Vysočina","v":368},{"d":"2021-02-18","r":"Kraj Vysočina","v":404},{"d":"2021-02-19","r":"Kraj Vysočina","v":421},{"d":"2021-02-20","r":"Kraj Vysočina","v":427},{"d":"2021-02-21","r":"Kraj Vysočina","v":396},{"d":"2021-02-22","r":"Kraj Vysočina","v":404},{"d":"2021-02-23","r":"Kraj Vysočina","v":433},{"d":"2021-02-24","r":"Kraj Vysočina","v":473},{"d":"2021-02-25","r":"Kraj Vysočina","v":491},{"d":"2021-02-26","r":"Kraj Vysočina","v":523},{"d":"2021-02-27","r":"Kraj Vysočina","v":549},{"d":"2021-02-28","r":"Kraj Vysočina","v":543},{"d":"2021-03-01","r":"Kraj Vysočina","v":558},
{"d":"2020-12-31","r":"Jihomoravský kraj","v":470},{"d":"2021-01-01","r":"Jihomoravský kraj","v":487},{"d":"2021-01-02","r":"Jihomoravský kraj","v":504},{"d":"2021-01-03","r":"Jihomoravský kraj","v":515},{"d":"2021-01-04","r":"Jihomoravský kraj","v":543},{"d":"2021-01-05","r":"Jihomoravský kraj","v":569},{"d":"2021-01-06","r":"Jihomoravský kraj","v":586},{"d":"2021-01-07","r":"Jihomoravský kraj","v":615},{"d":"2021-01-08","r":"Jihomoravský kraj","v":701},{"d":"2021-01-09","r":"Jihomoravský kraj","v":723},{"d":"2021-01-10","r":"Jihomoravský kraj","v":723},{"d":"2021-01-11","r":"Jihomoravský kraj","v":695},{"d":"2021-01-12","r":"Jihomoravský kraj","v":637},{"d":"2021-01-13","r":"Jihomoravský kraj","v":565},{"d":"2021-01-14","r":"Jihomoravský kraj","v":514},{"d":"2021-01-15","r":"Jihomoravský kraj","v":473},{"d":"2021-01-16","r":"Jihomoravský kraj","v":467},{"d":"2021-01-17","r":"Jihomoravský kraj","v":462},{"d":"2021-01-18","r":"Jihomoravský kraj","v":450},{"d":"2021-01-19","r":"Jihomoravský kraj","v":423},{"d":"2021-01-20","r":"Jihomoravský kraj","v":413},{"d":"2021-01-21","r":"Jihomoravský kraj","v":407},{"d":"2021-01-22","r":"Jihomoravský kraj","v":391},{"d":"2021-01-23","r":"Jihomoravský kraj","v":372},{"d":"2021-01-24","r":"Jihomoravský kraj","v":367},{"d":"2021-01-25","r":"Jihomoravský kraj","v":364},{"d":"2021-01-26","r":"Jihomoravský kraj","v":364},{"d":"2021-01-27","r":"Jihomoravský kraj","v":365},{"d":"2021-01-28","r":"Jihomoravský kraj","v":360},{"d":"2021-01-29","r":"Jihomoravský kraj","v":353},{"d":"2021-01-30","r":"Jihomoravský kraj","v":345},{"d":"2021-01-31","r":"Jihomoravský kraj","v":343},{"d":"2021-02-01","r":"Jihomoravský kraj","v":351},{"d":"2021-02-02","r":"Jihomoravský kraj","v":342},{"d":"2021-02-03","r":"Jihomoravský kraj","v":341},{"d":"2021-02-04","r":"Jihomoravský kraj","v":331},{"d":"2021-02-05","r":"Jihomoravský kraj","v":328},{"d":"2021-02-06","r":"Jihomoravský kraj","v":339},{"d":"2021-02-07","r":"Jihomoravský kraj","v":341},{"d":"2021-02-08","r":"Jihomoravský kraj","v":342},{"d":"2021-02-09","r":"Jihomoravský kraj","v":357},{"d":"2021-02-10","r":"Jihomoravský kraj","v":347},{"d":"2021-02-11","r":"Jihomoravský kraj","v":357},{"d":"2021-02-12","r":"Jihomoravský kraj","v":372},{"d":"2021-02-13","r":"Jihomoravský kraj","v":351},{"d":"2021-02-14","r":"Jihomoravský kraj","v":390},{"d":"2021-02-15","r":"Jihomoravský kraj","v":391},{"d":"2021-02-16","r":"Jihomoravský kraj","v":410},{"d":"2021-02-17","r":"Jihomoravský kraj","v":413},{"d":"2021-02-18","r":"Jihomoravský kraj","v":422},{"d":"2021-02-19","r":"Jihomoravský kraj","v":438},{"d":"2021-02-20","r":"Jihomoravský kraj","v":446},{"d":"2021-02-21","r":"Jihomoravský kraj","v":422},{"d":"2021-02-22","r":"Jihomoravský kraj","v":454},{"d":"2021-02-23","r":"Jihomoravský kraj","v":465},{"d":"2021-02-24","r":"Jihomoravský kraj","v":491},{"d":"2021-02-25","r":"Jihomoravský kraj","v":524},{"d":"2021-02-26","r":"Jihomoravský kraj","v":527},{"d":"2021-02-27","r":"Jihomoravský kraj","v":564},{"d":"2021-02-28","r":"Jihomoravský kraj","v":558},{"d":"2021-03-01","r":"Jihomoravský kraj","v":566},
{"d":"2020-12-31","r":"Olomoucký kraj","v":570},{"d":"2021-01-01","r":"Olomoucký kraj","v":559},{"d":"2021-01-02","r":"Olomoucký kraj","v":555},{"d":"2021-01-03","r":"Olomoucký kraj","v":553},{"d":"2021-01-04","r":"Olomoucký kraj","v":623},{"d":"2021-01-05","r":"Olomoucký kraj","v":527},{"d":"2021-01-06","r":"Olomoucký kraj","v":573},{"d":"2021-01-07","r":"Olomoucký kraj","v":612},{"d":"2021-01-08","r":"Olomoucký kraj","v":657},{"d":"2021-01-09","r":"Olomoucký kraj","v":759},{"d":"2021-01-10","r":"Olomoucký kraj","v":759},{"d":"2021-01-11","r":"Olomoucký kraj","v":725},{"d":"2021-01-12","r":"Olomoucký kraj","v":732},{"d":"2021-01-13","r":"Olomoucký kraj","v":633},{"d":"2021-01-14","r":"Olomoucký kraj","v":555},{"d":"2021-01-15","r":"Olomoucký kraj","v":573},{"d":"2021-01-16","r":"Olomoucký kraj","v":478},{"d":"2021-01-17","r":"Olomoucký kraj","v":472},{"d":"2021-01-18","r":"Olomoucký kraj","v":485},{"d":"2021-01-19","r":"Olomoucký kraj","v":459},{"d":"2021-01-20","r":"Olomoucký kraj","v":436},{"d":"2021-01-21","r":"Olomoucký kraj","v":452},{"d":"2021-01-22","r":"Olomoucký kraj","v":438},{"d":"2021-01-23","r":"Olomoucký kraj","v":441},{"d":"2021-01-24","r":"Olomoucký kraj","v":440},{"d":"2021-01-25","r":"Olomoucký kraj","v":401},{"d":"2021-01-26","r":"Olomoucký kraj","v":402},{"d":"2021-01-27","r":"Olomoucký kraj","v":399},{"d":"2021-01-28","r":"Olomoucký kraj","v":394},{"d":"2021-01-29","r":"Olomoucký kraj","v":394},{"d":"2021-01-30","r":"Olomoucký kraj","v":388},{"d":"2021-01-31","r":"Olomoucký kraj","v":380},{"d":"2021-02-01","r":"Olomoucký kraj","v":383},{"d":"2021-02-02","r":"Olomoucký kraj","v":381},{"d":"2021-02-03","r":"Olomoucký kraj","v":373},{"d":"2021-02-04","r":"Olomoucký kraj","v":365},{"d":"2021-02-05","r":"Olomoucký kraj","v":360},{"d":"2021-02-06","r":"Olomoucký kraj","v":362},{"d":"2021-02-07","r":"Olomoucký kraj","v":362},{"d":"2021-02-08","r":"Olomoucký kraj","v":345},{"d":"2021-02-09","r":"Olomoucký kraj","v":342},{"d":"2021-02-10","r":"Olomoucký kraj","v":344},{"d":"2021-02-11","r":"Olomoucký kraj","v":348},{"d":"2021-02-12","r":"Olomoucký kraj","v":353},{"d":"2021-02-13","r":"Olomoucký kraj","v":356},{"d":"2021-02-14","r":"Olomoucký kraj","v":430},{"d":"2021-02-15","r":"Olomoucký kraj","v":459},{"d":"2021-02-16","r":"Olomoucký kraj","v":459},{"d":"2021-02-17","r":"Olomoucký kraj","v":462},{"d":"2021-02-18","r":"Olomoucký kraj","v":475},{"d":"2021-02-19","r":"Olomoucký kraj","v":461},{"d":"2021-02-20","r":"Olomoucký kraj","v":516},{"d":"2021-02-21","r":"Olomoucký kraj","v":431},{"d":"2021-02-22","r":"Olomoucký kraj","v":445},{"d":"2021-02-23","r":"Olomoucký kraj","v":470},{"d":"2021-02-24","r":"Olomoucký kraj","v":495},{"d":"2021-02-25","r":"Olomoucký kraj","v":488},{"d":"2021-02-26","r":"Olomoucký kraj","v":575},{"d":"2021-02-27","r":"Olomoucký kraj","v":536},{"d":"2021-02-28","r":"Olomoucký kraj","v":538},{"d":"2021-03-01","r":"Olomoucký kraj","v":552},
{"d":"2020-12-31","r":"Zlínský kraj","v":738},{"d":"2021-01-01","r":"Zlínský kraj","v":742},{"d":"2021-01-02","r":"Zlínský kraj","v":757},{"d":"2021-01-03","r":"Zlínský kraj","v":768},{"d":"2021-01-04","r":"Zlínský kraj","v":809},{"d":"2021-01-05","r":"Zlínský kraj","v":845},{"d":"2021-01-06","r":"Zlínský kraj","v":817},{"d":"2021-01-07","r":"Zlínský kraj","v":850},{"d":"2021-01-08","r":"Zlínský kraj","v":942},{"d":"2021-01-09","r":"Zlínský kraj","v":953},{"d":"2021-01-10","r":"Zlínský kraj","v":953},{"d":"2021-01-11","r":"Zlínský kraj","v":912},{"d":"2021-01-12","r":"Zlínský kraj","v":820},{"d":"2021-01-13","r":"Zlínský kraj","v":763},{"d":"2021-01-14","r":"Zlínský kraj","v":654},{"d":"2021-01-15","r":"Zlínský kraj","v":595},{"d":"2021-01-16","r":"Zlínský kraj","v":570},{"d":"2021-01-17","r":"Zlínský kraj","v":535},{"d":"2021-01-18","r":"Zlínský kraj","v":499},{"d":"2021-01-19","r":"Zlínský kraj","v":460},{"d":"2021-01-20","r":"Zlínský kraj","v":438},{"d":"2021-01-21","r":"Zlínský kraj","v":409},{"d":"2021-01-22","r":"Zlínský kraj","v":403},{"d":"2021-01-23","r":"Zlínský kraj","v":387},{"d":"2021-01-24","r":"Zlínský kraj","v":387},{"d":"2021-01-25","r":"Zlínský kraj","v":391},{"d":"2021-01-26","r":"Zlínský kraj","v":372},{"d":"2021-01-27","r":"Zlínský kraj","v":350},{"d":"2021-01-28","r":"Zlínský kraj","v":350},{"d":"2021-01-29","r":"Zlínský kraj","v":319},{"d":"2021-01-30","r":"Zlínský kraj","v":315},{"d":"2021-01-31","r":"Zlínský kraj","v":308},{"d":"2021-02-01","r":"Zlínský kraj","v":299},{"d":"2021-02-02","r":"Zlínský kraj","v":277},{"d":"2021-02-03","r":"Zlínský kraj","v":265},{"d":"2021-02-04","r":"Zlínský kraj","v":277},{"d":"2021-02-05","r":"Zlínský kraj","v":272},{"d":"2021-02-06","r":"Zlínský kraj","v":266},{"d":"2021-02-07","r":"Zlínský kraj","v":262},{"d":"2021-02-08","r":"Zlínský kraj","v":245},{"d":"2021-02-09","r":"Zlínský kraj","v":245},{"d":"2021-02-10","r":"Zlínský kraj","v":244},{"d":"2021-02-11","r":"Zlínský kraj","v":225},{"d":"2021-02-12","r":"Zlínský kraj","v":225},{"d":"2021-02-13","r":"Zlínský kraj","v":218},{"d":"2021-02-14","r":"Zlínský kraj","v":244},{"d":"2021-02-15","r":"Zlínský kraj","v":258},{"d":"2021-02-16","r":"Zlínský kraj","v":261},{"d":"2021-02-17","r":"Zlínský kraj","v":261},{"d":"2021-02-18","r":"Zlínský kraj","v":282},{"d":"2021-02-19","r":"Zlínský kraj","v":290},{"d":"2021-02-20","r":"Zlínský kraj","v":305},{"d":"2021-02-21","r":"Zlínský kraj","v":290},{"d":"2021-02-22","r":"Zlínský kraj","v":294},{"d":"2021-02-23","r":"Zlínský kraj","v":318},{"d":"2021-02-24","r":"Zlínský kraj","v":345},{"d":"2021-02-25","r":"Zlínský kraj","v":356},{"d":"2021-02-26","r":"Zlínský kraj","v":373},{"d":"2021-02-27","r":"Zlínský kraj","v":391},{"d":"2021-02-28","r":"Zlínský kraj","v":387},{"d":"2021-03-01","r":"Zlínský kraj","v":398},
{"d":"2020-12-31","r":"Moravskoslezský kraj","v":816},{"d":"2021-01-01","r":"Moravskoslezský kraj","v":820},{"d":"2021-01-02","r":"Moravskoslezský kraj","v":850},{"d":"2021-01-03","r":"Moravskoslezský kraj","v":848},{"d":"2021-01-04","r":"Moravskoslezský kraj","v":876},{"d":"2021-01-05","r":"Moravskoslezský kraj","v":886},{"d":"2021-01-06","r":"Moravskoslezský kraj","v":860},{"d":"2021-01-07","r":"Moravskoslezský kraj","v":906},{"d":"2021-01-08","r":"Moravskoslezský kraj","v":1026},{"d":"2021-01-09","r":"Moravskoslezský kraj","v":1060},{"d":"2021-01-10","r":"Moravskoslezský kraj","v":1060},{"d":"2021-01-11","r":"Moravskoslezský kraj","v":1001},{"d":"2021-01-12","r":"Moravskoslezský kraj","v":925},{"d":"2021-01-13","r":"Moravskoslezský kraj","v":852},{"d":"2021-01-14","r":"Moravskoslezský kraj","v":749},{"d":"2021-01-15","r":"Moravskoslezský kraj","v":694},{"d":"2021-01-16","r":"Moravskoslezský kraj","v":651},{"d":"2021-01-17","r":"Moravskoslezský kraj","v":643},{"d":"2021-01-18","r":"Moravskoslezský kraj","v":584},{"d":"2021-01-19","r":"Moravskoslezský kraj","v":544},{"d":"2021-01-20","r":"Moravskoslezský kraj","v":496},{"d":"2021-01-21","r":"Moravskoslezský kraj","v":477},{"d":"2021-01-22","r":"Moravskoslezský kraj","v":459},{"d":"2021-01-23","r":"Moravskoslezský kraj","v":424},{"d":"2021-01-24","r":"Moravskoslezský kraj","v":401},{"d":"2021-01-25","r":"Moravskoslezský kraj","v":401},{"d":"2021-01-26","r":"Moravskoslezský kraj","v":391},{"d":"2021-01-27","r":"Moravskoslezský kraj","v":384},{"d":"2021-01-28","r":"Moravskoslezský kraj","v":373},{"d":"2021-01-29","r":"Moravskoslezský kraj","v":359},{"d":"2021-01-30","r":"Moravskoslezský kraj","v":362},{"d":"2021-01-31","r":"Moravskoslezský kraj","v":350},{"d":"2021-02-01","r":"Moravskoslezský kraj","v":339},{"d":"2021-02-02","r":"Moravskoslezský kraj","v":322},{"d":"2021-02-03","r":"Moravskoslezský kraj","v":314},{"d":"2021-02-04","r":"Moravskoslezský kraj","v":306},{"d":"2021-02-05","r":"Moravskoslezský kraj","v":310},{"d":"2021-02-06","r":"Moravskoslezský kraj","v":299},{"d":"2021-02-07","r":"Moravskoslezský kraj","v":297},{"d":"2021-02-08","r":"Moravskoslezský kraj","v":289},{"d":"2021-02-09","r":"Moravskoslezský kraj","v":294},{"d":"2021-02-10","r":"Moravskoslezský kraj","v":301},{"d":"2021-02-11","r":"Moravskoslezský kraj","v":307},{"d":"2021-02-12","r":"Moravskoslezský kraj","v":293},{"d":"2021-02-13","r":"Moravskoslezský kraj","v":299},{"d":"2021-02-14","r":"Moravskoslezský kraj","v":339},{"d":"2021-02-15","r":"Moravskoslezský kraj","v":351},{"d":"2021-02-16","r":"Moravskoslezský kraj","v":365},{"d":"2021-02-17","r":"Moravskoslezský kraj","v":380},{"d":"2021-02-18","r":"Moravskoslezský kraj","v":388},{"d":"2021-02-19","r":"Moravskoslezský kraj","v":404},{"d":"2021-02-20","r":"Moravskoslezský kraj","v":416},{"d":"2021-02-21","r":"Moravskoslezský kraj","v":379},{"d":"2021-02-22","r":"Moravskoslezský kraj","v":386},{"d":"2021-02-23","r":"Moravskoslezský kraj","v":413},{"d":"2021-02-24","r":"Moravskoslezský kraj","v":428},{"d":"2021-02-25","r":"Moravskoslezský kraj","v":454},{"d":"2021-02-26","r":"Moravskoslezský kraj","v":469},{"d":"2021-02-27","r":"Moravskoslezský kraj","v":474},{"d":"2021-02-28","r":"Moravskoslezský kraj","v":481},{"d":"2021-03-01","r":"Moravskoslezský kraj","v":504}
]},
"layer": [
{"mark": {"type": "line", "strokeWidth": 3.5, "strokeJoin": "round"},
 "encoding": {
  "x": {"field": "d", "type": "ordinal", "scale": {"type": "point", "padding": 0.5},
        "axis": {"title": null, "labelAngle": 270, "labelExpr": "slice(datum.value,8,10)+'.'+slice(datum.value,5,7)+'.'+slice(datum.value,0,4)", "labelFont": "Liberation Sans", "labelFontSize": 14, "labelFontWeight": "bold", "labelColor": "#000000", "labelPadding": 8, "ticks": false, "domain": true, "domainColor": "#D9D9D9", "domainWidth": 1, "grid": false, "labelOverlap": false}},
  "y": {"field": "v", "type": "quantitative", "scale": {"domain": [0, 1400], "nice": false},
        "axis": {"title": null, "values": [0,200,400,600,800,1000,1200,1400], "format": "d", "grid": true, "gridColor": "#D9D9D9", "gridWidth": 1, "domain": false, "ticks": false, "labelFont": "Liberation Sans", "labelFontSize": 12.5, "labelFontWeight": "bold", "labelColor": "#000000", "labelPadding": 12}},
  "stroke": {"field": "r", "type": "nominal",
    "scale": {"domain": ["Hlavní město Praha","Středočeský kraj","Jihočeský kraj","Plzeňský kraj","Karlovarský kraj","Ústecký kraj","Liberecký kraj","Královéhradecký kraj","Pardubický kraj","Kraj Vysočina","Jihomoravský kraj","Olomoucký kraj","Zlínský kraj","Moravskoslezský kraj"],
              "range": ["#FF66FF","#ED7D31","#A5A5A5","#FFC000","#0D0D0D","#70AD47","#7030A0","#9E480E","#636363","#997300","#255E91","#43682B","#843C0C","#F1975A"]},
    "legend": {"title": null, "orient": "none", "legendX": 30, "legendY": 870, "direction": "horizontal", "columns": 7, "gridAlign": "all", "columnPadding": 67, "rowPadding": 12, "padding": 0, "clipHeight": 18, "symbolType": "M-1,0H-0.25M0.25,0H1", "symbolSize": 1296, "symbolStrokeWidth": 3.5, "symbolOpacity": 1, "labelFont": "Liberation Sans", "labelFontSize": 14, "labelFontWeight": "bold", "labelColor": "#000000", "labelOffset": 3, "labelLimit": 0}}
 }},
{"mark": {"type": "point", "filled": true, "size": 80, "opacity": 1, "stroke": "#636363"},
 "encoding": {
  "x": {"field": "d", "type": "ordinal"},
  "y": {"field": "v", "type": "quantitative"},
  "fill": {"field": "r", "type": "nominal",
    "sort": ["Hlavní město Praha","Středočeský kraj","Jihočeský kraj","Plzeňský kraj","Karlovarský kraj","Ústecký kraj","Liberecký kraj","Královéhradecký kraj","Pardubický kraj","Kraj Vysočina","Jihomoravský kraj","Olomoucký kraj","Zlínský kraj","Moravskoslezský kraj"],
    "scale": {"range": ["#4472C4","#ED7D31","#A5A5A5","#FFC000","#5B9BD5","#70AD47","#264478","#9E480E","#FF0000","#997300","#255E91","#43682B","#698ED0","#F1975A"]},
    "legend": {"title": null, "orient": "none", "legendX": 30, "legendY": 870, "direction": "horizontal", "columns": 7, "gridAlign": "all", "columnPadding": 214, "rowPadding": 12, "padding": 0, "clipHeight": 18, "symbolType": "M-1,0H1M-0.25,0A0.25,0.25 0 1,1 0.25,0A0.25,0.25 0 1,1 -0.25,0Z", "symbolSize": 1296, "symbolStrokeWidth": 3.5, "symbolStrokeColor": "transparent", "symbolOpacity": 1, "labelExpr": "''", "labelFontSize": 14, "labelOffset": 0, "labelLimit": 0}},
  "strokeWidth": {"condition": {"test": "datum.r === 'Pardubický kraj'", "value": 1.5}, "value": 0}
 }}
]
}
